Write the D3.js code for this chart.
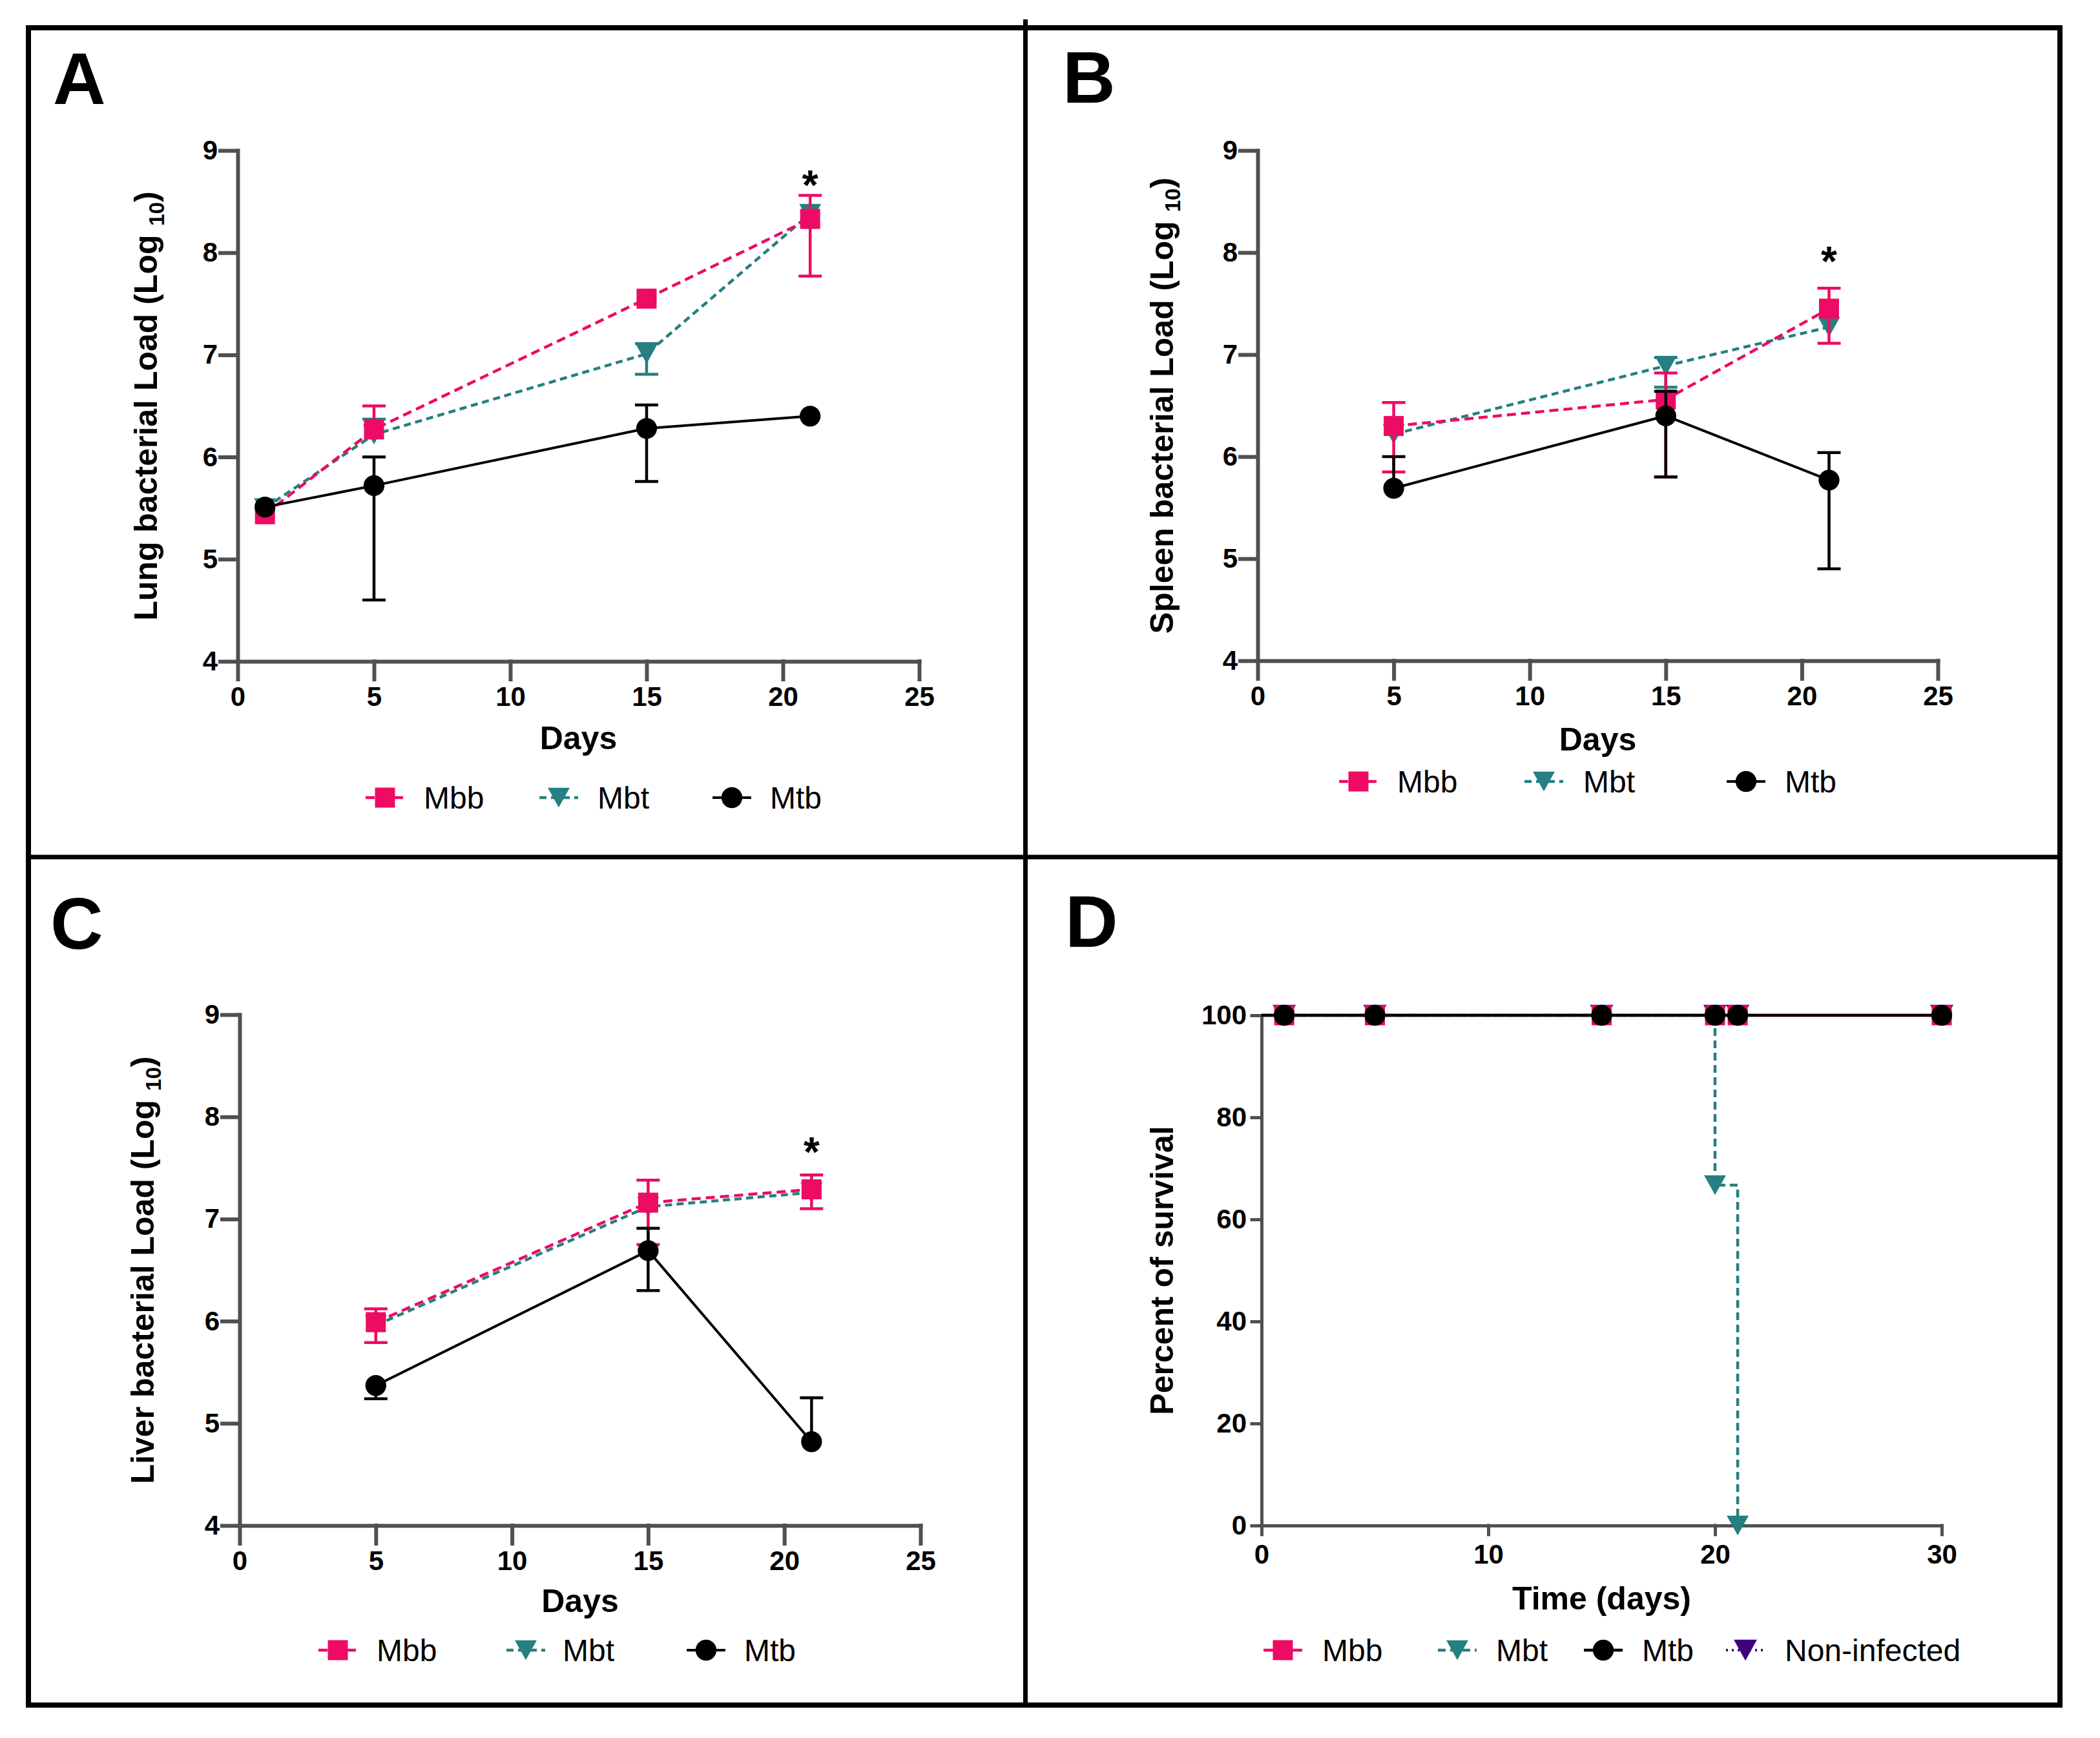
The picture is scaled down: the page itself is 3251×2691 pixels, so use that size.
<!DOCTYPE html>
<html>
<head>
<meta charset="utf-8">
<script src="https://cdn.jsdelivr.net/npm/d3@7"></script>
<style>
html, body { margin: 0; padding: 0; background: #fff; }
text { font-family: "Liberation Sans", Arial, sans-serif; }
</style>
</head>
<body>
<svg id="fig" width="3251" height="2691"></svg>
<script>
// ---- data ----
const loadTicks = [4, 5, 6, 7, 8, 9];
const dayTicks = [0, 5, 10, 15, 20, 25];
const survTicks = [0, 20, 40, 60, 80, 100];
const timeTicks = [0, 10, 20, 30];

// A: lung
const lungDays = [1, 5, 15, 21];
const lungMbb = [5.44, 6.27, 7.55, 8.33];
const lungMbbHi = [null, 6.50, null, 8.56];
const lungMbbLo = [null, null, null, 7.77];
const lungMbt = [5.50, 6.22, 7.01, 8.38];
const lungMbtHi = [null, 6.37, 7.11, null];
const lungMbtLo = [null, null, 6.81, null];
const lungMtb = [5.51, 5.72, 6.28, 6.40];
const lungMtbHi = [null, 6.00, 6.51, null];
const lungMtbLo = [null, 4.60, 5.76, null];

// B: spleen
const spleenDays = [5, 15, 21];
const spleenMbb = [6.30, 6.56, 7.45];
const spleenMbbHi = [6.53, 6.82, 7.65];
const spleenMbbLo = [5.85, 5.80, 7.11];
const spleenMbt = [6.22, 6.89, 7.27];
const spleenMbtHi = [null, 6.97, null];
const spleenMbtLo = [null, 6.68, null];
const spleenMtb = [5.69, 6.40, 5.77];
const spleenMtbHi = [6.00, 6.64, 6.04];
const spleenMtbLo = [null, 5.80, 4.90];

// C: liver
const liverDays = [5, 15, 21];
const liverMbb = [5.99, 7.16, 7.29];
const liverMbbHi = [6.12, 7.38, 7.43];
const liverMbbLo = [5.79, 6.75, 7.10];
const liverMbt = [5.96, 7.12, 7.26];
const liverMtb = [5.37, 6.69, 4.82];
const liverMtbHi = [null, 6.91, 5.25];
const liverMtbLo = [5.24, 6.30, null];

// significance stars (day, level)
const starDay = 21;
const starLevels = [8.75, 8.0, 7.74];

// D: survival
const survTimesMbb = [0, 30];
const survMbb = [100, 100];
const survTimesMbt = [0, 20, 21];
const survMbt = [100, 66.7, 0];
const survTimesMtb = [0, 30];
const survMtb = [100, 100];
const survTimesNon = [0, 30];
const survNon = [100, 100];
const markDays = [1, 5, 15, 20, 21, 30];
const markMbb = [100, 100, 100, 100, 100, 100];
const markMbtDays = [1, 5, 15, 20, 21];
const markMbt = [100, 100, 100, 66.7, 0];
const markMtb = [100, 100, 100, 100, 100, 100];
const markNon = [100, 100, 100, 100, 100, 100];

// ---- styles ----
const pink = "#ed0b64", teal = "#267f80", black = "#000", purple = "#400080";
const axisGray = "#505050";

const svg = d3.select("#fig");

// custom down-pointing triangle, centred on its bounding box
const triDown = {
  draw(ctx, size) {
    const w = Math.sqrt(size) * 1.55, h = w * 0.9;
    ctx.moveTo(-w / 2, -h / 2);
    ctx.lineTo(w / 2, -h / 2);
    ctx.lineTo(0, h / 2);
    ctx.closePath();
  }
};
const shapes = {
  square: d3.symbol().type(d3.symbolSquare).size(961),
  circle: d3.symbol().type(d3.symbolCircle).size(820),
  tri: d3.symbol().type(triDown).size(480),
  triBig: d3.symbol().type(triDown).size(540)
};

const zip = (xs, ys, hi, lo) => xs.map((d, i) => ({
  day: d, v: ys[i], hi: hi ? hi[i] : null, lo: lo ? lo[i] : null
})).filter(d => d.v != null);

// outer frame and dividers
svg.append("rect").attr("x", 44).attr("y", 43).attr("width", 3145).attr("height", 2597)
  .attr("fill", "none").attr("stroke", "#000").attr("stroke-width", 8);
svg.append("line").attr("x1", 1587.5).attr("x2", 1587.5).attr("y1", 30).attr("y2", 2640)
  .attr("stroke", "#000").attr("stroke-width", 7);
svg.append("line").attr("x1", 44).attr("x2", 3189).attr("y1", 1327).attr("y2", 1327)
  .attr("stroke", "#000").attr("stroke-width", 7);

function drawAxes(g, x, y, p) {
  const ax = g.append("g").attr("transform", "translate(0," + p.yBot + ")")
    .call(d3.axisBottom(x).tickValues(p.xTicks).tickSize(p.tickX).tickSizeOuter(0)
      .tickPadding(p.padX).tickFormat(d3.format("d")));
  const ay = g.append("g").attr("transform", "translate(" + p.x0 + ",0)")
    .call(d3.axisLeft(y).tickValues(p.yTicks).tickSize(p.tickY).tickSizeOuter(0)
      .tickPadding(p.padY).tickFormat(d3.format("d")));
  [ax, ay].forEach(a => {
    a.selectAll("path,line").attr("stroke", axisGray).attr("stroke-width", p.axisW)
      .attr("stroke-linecap", "square");
    a.selectAll("text").attr("fill", "#000").style("font-size", "42px")
      .style("font-weight", "bold").style("font-family", "'Liberation Sans', Arial, sans-serif");
  });
  // axis titles
  g.append("text").attr("x", (p.x0 + p.x1) / 2).attr("y", p.xTitleY)
    .attr("text-anchor", "middle").style("font-size", "50px").style("font-weight", "bold")
    .text(p.xTitle);
  const yt = g.append("text")
    .attr("transform", "translate(" + p.yTitleX + "," + (p.yTop + p.yBot) / 2 + ") rotate(-90)")
    .attr("text-anchor", "middle").style("font-size", "50px").style("font-weight", "bold");
  if (p.sub) {
    yt.append("tspan").text(p.yTitle + " ");
    yt.append("tspan").attr("dy", 11).style("font-size", "33px").text(p.sub);
    yt.append("tspan").attr("dy", -11).text(")");
  } else {
    yt.text(p.yTitle);
  }
  g.append("text").attr("x", p.letter[0]).attr("y", p.letter[1])
    .style("font-size", "113px").style("font-weight", "bold").text(p.name);
}

function drawSeries(g, x, y, s, curve) {
  const line = d3.line().x(d => x(d.day)).y(d => y(d.v));
  if (curve) line.curve(curve);
  g.append("path").datum(s.line || s.pts).attr("d", line).attr("fill", "none")
    .attr("stroke", s.color).attr("stroke-width", s.lw)
    .attr("stroke-dasharray", s.dash || null);
  const cap = 18;
  s.pts.forEach(d => {
    const top = d.hi != null ? d.hi : d.v, bot = d.lo != null ? d.lo : d.v;
    if (top === bot) return;
    g.append("line").attr("x1", x(d.day)).attr("x2", x(d.day))
      .attr("y1", y(top)).attr("y2", y(bot))
      .attr("stroke", s.color).attr("stroke-width", 4.5);
    [d.hi, d.lo].forEach(e => {
      if (e == null) return;
      g.append("line").attr("x1", x(d.day) - cap).attr("x2", x(d.day) + cap)
        .attr("y1", y(e)).attr("y2", y(e))
        .attr("stroke", s.color).attr("stroke-width", 4.5);
    });
  });
  g.selectAll(null).data(s.marks || s.pts).enter().append("path")
    .attr("d", shapes[s.shape])
    .attr("transform", d => "translate(" + x(d.day) + "," + y(d.v) + ")")
    .attr("fill", s.color);
}

function drawLegend(g, p, series) {
  series.forEach((s, i) => {
    const cx = p.legMarks[i], ly = p.legY;
    g.append("line").attr("x1", cx - 30).attr("x2", cx + 30).attr("y1", ly).attr("y2", ly)
      .attr("stroke", s.color).attr("stroke-width", s.lw)
      .attr("stroke-dasharray", s.legDash || s.dash || null);
    g.append("path").attr("d", shapes[s.shape]).attr("transform", "translate(" + cx + "," + ly + ")")
      .attr("fill", s.color);
    g.append("text").attr("x", p.legText[i]).attr("y", ly + 17)
      .style("font-size", "48px").text(s.label);
  });
}

function loadPanel(p, sets, star) {
  const g = svg.append("g");
  const x = d3.scaleLinear().domain([0, 25]).range([p.x0, p.x1]);
  const y = d3.scaleLinear().domain([4, 9]).range([p.yBot, p.yTop]);
  drawAxes(g, x, y, Object.assign({ xTicks: dayTicks, yTicks: loadTicks, tickX: 28, tickY: 27,
    padX: 11, padY: 4, axisW: 6, xTitle: "Days", sub: "10" }, p));
  const series = [
    { label: "Mbb", color: pink, dash: "14,8", lw: 4.5, shape: "square", pts: sets.mbb },
    { label: "Mbt", color: teal, dash: "11,7", lw: 4.5, shape: "tri", pts: sets.mbt },
    { label: "Mtb", color: black, lw: 4, shape: "circle", pts: sets.mtb }
  ];
  [series[1], series[0], series[2]].forEach(s => drawSeries(g, x, y, s));
  g.append("text").attr("x", x(starDay)).attr("y", y(star) + 36).attr("text-anchor", "middle")
    .style("font-size", "64px").style("font-weight", "bold").text("*");
  drawLegend(g, p, series);
}

loadPanel({ name: "A", x0: 368, x1: 1423, yTop: 233, yBot: 1024, xTitleY: 1160, yTitleX: 243,
  yTitle: "Lung bacterial Load (Log", letter: [82, 161],
  legY: 1235, legMarks: [596, 865, 1133], legText: [656, 925, 1192] },
  { mbb: zip(lungDays, lungMbb, lungMbbHi, lungMbbLo),
    mbt: zip(lungDays, lungMbt, lungMbtHi, lungMbtLo),
    mtb: zip(lungDays, lungMtb, lungMtbHi, lungMtbLo) }, starLevels[0]);

loadPanel({ name: "B", x0: 1947, x1: 3000, yTop: 233, yBot: 1023, xTitleY: 1162, yTitleX: 1816,
  yTitle: "Spleen bacterial Load (Log", letter: [1645, 159],
  legY: 1210, legMarks: [2103, 2390, 2703], legText: [2163, 2451, 2763] },
  { mbb: zip(spleenDays, spleenMbb, spleenMbbHi, spleenMbbLo),
    mbt: zip(spleenDays, spleenMbt, spleenMbtHi, spleenMbtLo),
    mtb: zip(spleenDays, spleenMtb, spleenMtbHi, spleenMtbLo) }, starLevels[1]);

loadPanel({ name: "C", x0: 371, x1: 1425, yTop: 1571, yBot: 2362, xTitleY: 2496, yTitleX: 238,
  yTitle: "Liver bacterial Load (Log", letter: [78, 1469],
  legY: 2555, legMarks: [523, 814, 1093], legText: [583, 871, 1152] },
  { mbb: zip(liverDays, liverMbb, liverMbbHi, liverMbbLo),
    mbt: zip(liverDays, liverMbt),
    mtb: zip(liverDays, liverMtb, liverMtbHi, liverMtbLo) }, starLevels[2]);

// D: survival
(function () {
  const p = { name: "D", x0: 1953, x1: 3006, yTop: 1572, yBot: 2362, xTitleY: 2492, yTitleX: 1816,
    yTitle: "Percent of survival", xTitle: "Time (days)", letter: [1649, 1466],
    xTicks: timeTicks, yTicks: survTicks, tickX: 14, tickY: 15, padX: 15, padY: 8, axisW: 5,
    legY: 2555, legMarks: [1986, 2256, 2482, 2702], legText: [2047, 2316, 2542, 2763] };
  const g = svg.append("g");
  const x = d3.scaleLinear().domain([0, 30]).range([p.x0, p.x1]);
  const y = d3.scaleLinear().domain([0, 100]).range([p.yBot, p.yTop]);
  drawAxes(g, x, y, p);
  const series = [
    { label: "Mbb", color: pink, lw: 4.5, shape: "square",
      line: zip(survTimesMbb, survMbb), pts: [], marks: zip(markDays, markMbb) },
    { label: "Mbt", color: teal, dash: "12,7", lw: 4.5, shape: "tri",
      line: zip(survTimesMbt, survMbt), pts: [], marks: zip(markMbtDays, markMbt) },
    { label: "Mtb", color: black, lw: 4.5, shape: "circle",
      line: zip(survTimesMtb, survMtb), pts: [], marks: zip(markDays, markMtb) },
    { label: "Non-infected", color: purple, dash: "3,6", legDash: "3,6", lw: 4, shape: "triBig",
      line: zip(survTimesNon, survNon), pts: [], marks: zip(markDays, markNon) }
  ];
  [series[3], series[1], series[0], series[2]].forEach(s => drawSeries(g, x, y, s, d3.curveStepAfter));
  drawLegend(g, p, series);
})();
</script>
</body>
</html>
